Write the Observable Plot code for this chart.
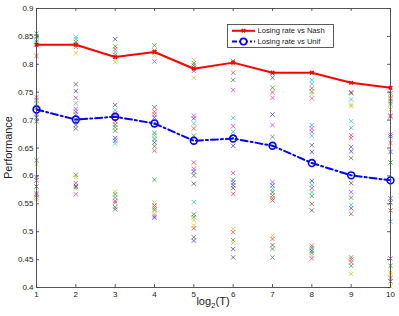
<!DOCTYPE html>
<html>
<head>
<meta charset="utf-8">
<script src="https://cdn.jsdelivr.net/npm/d3@7"></script>
<script src="https://cdn.jsdelivr.net/npm/@observablehq/plot@0.6"></script>
<style>
  html, body { margin: 0; padding: 0; background: #fff; }
  #chart { width: 399px; height: 316px; }
</style>
</head>
<body>
<div id="chart"></div>
<script>
// ---- Data ----
const xTicks = [1, 2, 3, 4, 5, 6, 7, 8, 9, 10];
const yTicks = [0.4, 0.45, 0.5, 0.55, 0.6, 0.65, 0.7, 0.75, 0.8, 0.85, 0.9];
const log2T = [1, 2, 3, 4, 5, 6, 7, 8, 9, 10];
const losingVsNash = [0.835, 0.835, 0.813, 0.822, 0.792, 0.803, 0.785, 0.785, 0.767, 0.758];
const losingVsUnif = [0.719, 0.701, 0.706, 0.694, 0.663, 0.667, 0.654, 0.623, 0.601, 0.592];
const seriesNames = ["Losing rate vs Nash", "Losing rate vs Unif"];

// individual runs per log2(T): [value, colour code]
const runs1 = [[0.855,"g"],[0.85,"k"],[0.844,"c"],[0.840,"g"],[0.835,"y"],[0.815,"r"],[0.741,"m"],[0.736,"r"],[0.729,"c"],[0.723,"g"],[0.711,"b"],[0.705,"b"],[0.698,"g"],[0.628,"g"],[0.621,"y"],[0.598,"b"],[0.592,"r"],[0.581,"k"],[0.569,"g"],[0.566,"m"],[0.561,"r"],[0.558,"y"]];
const runs2 = [[0.849,"c"],[0.845,"c"],[0.84,"k"],[0.835,"g"],[0.831,"r"],[0.82,"y"],[0.764,"k"],[0.752,"b"],[0.74,"m"],[0.73,"c"],[0.72,"m"],[0.715,"b"],[0.71,"m"],[0.701,"g"],[0.697,"g"],[0.691,"b"],[0.685,"k"],[0.602,"g"],[0.598,"y"],[0.587,"r"],[0.582,"k"],[0.58,"b"],[0.577,"y"],[0.567,"m"]];
const runs3 = [[0.845,"k"],[0.832,"g"],[0.827,"r"],[0.822,"c"],[0.817,"r"],[0.809,"y"],[0.804,"y"],[0.727,"k"],[0.718,"c"],[0.711,"r"],[0.698,"r"],[0.692,"k"],[0.687,"g"],[0.681,"g"],[0.668,"b"],[0.663,"b"],[0.658,"c"],[0.572,"y"],[0.567,"g"],[0.561,"g"],[0.555,"r"],[0.552,"m"],[0.544,"g"],[0.54,"k"]];
const runs4 = [[0.834,"g"],[0.825,"k"],[0.821,"g"],[0.816,"y"],[0.805,"m"],[0.723,"k"],[0.715,"r"],[0.71,"m"],[0.705,"b"],[0.693,"k"],[0.677,"g"],[0.672,"c"],[0.666,"g"],[0.66,"b"],[0.653,"g"],[0.645,"r"],[0.593,"g"],[0.552,"y"],[0.547,"k"],[0.543,"r"],[0.539,"g"],[0.532,"y"],[0.528,"m"],[0.525,"b"]];
const runs5 = [[0.808,"y"],[0.802,"g"],[0.798,"k"],[0.794,"r"],[0.788,"m"],[0.776,"y"],[0.708,"m"],[0.703,"b"],[0.694,"c"],[0.685,"r"],[0.672,"g"],[0.624,"r"],[0.613,"m"],[0.608,"b"],[0.601,"g"],[0.586,"k"],[0.553,"c"],[0.531,"g"],[0.526,"g"],[0.521,"y"],[0.511,"y"],[0.506,"r"],[0.49,"k"],[0.484,"b"]];
const runs6 = [[0.806,"k"],[0.799,"y"],[0.785,"r"],[0.772,"g"],[0.754,"m"],[0.704,"c"],[0.689,"m"],[0.679,"c"],[0.668,"g"],[0.654,"b"],[0.605,"m"],[0.593,"g"],[0.588,"b"],[0.583,"b"],[0.578,"k"],[0.568,"r"],[0.505,"y"],[0.499,"r"],[0.485,"g"],[0.48,"y"],[0.469,"b"],[0.454,"k"]];
const runs7 = [[0.776,"k"],[0.758,"g"],[0.75,"r"],[0.74,"m"],[0.71,"b"],[0.691,"m"],[0.67,"g"],[0.589,"m"],[0.583,"b"],[0.577,"c"],[0.571,"k"],[0.565,"g"],[0.56,"r"],[0.556,"r"],[0.493,"y"],[0.487,"r"],[0.476,"k"],[0.469,"g"],[0.454,"g"]];
const runs8 = [[0.772,"c"],[0.765,"c"],[0.757,"r"],[0.751,"g"],[0.746,"y"],[0.739,"m"],[0.691,"c"],[0.685,"m"],[0.679,"m"],[0.672,"c"],[0.655,"k"],[0.643,"b"],[0.591,"b"],[0.584,"c"],[0.578,"m"],[0.571,"c"],[0.564,"g"],[0.55,"r"],[0.538,"k"],[0.475,"r"],[0.471,"g"],[0.466,"b"],[0.462,"g"],[0.457,"y"],[0.452,"m"]];
const runs9 = [[0.75,"r"],[0.748,"k"],[0.737,"c"],[0.728,"y"],[0.725,"y"],[0.698,"c"],[0.686,"c"],[0.673,"m"],[0.668,"r"],[0.652,"k"],[0.644,"b"],[0.632,"g"],[0.587,"k"],[0.571,"m"],[0.561,"g"],[0.548,"c"],[0.542,"b"],[0.532,"r"],[0.454,"g"],[0.45,"r"],[0.445,"m"],[0.439,"g"],[0.424,"y"]];
const runs10 = [[0.748,"k"],[0.744,"y"],[0.739,"r"],[0.734,"g"],[0.729,"g"],[0.719,"y"],[0.708,"m"],[0.706,"r"],[0.674,"m"],[0.671,"b"],[0.659,"r"],[0.643,"b"],[0.624,"g"],[0.56,"b"],[0.552,"k"],[0.538,"r"],[0.518,"c"],[0.452,"m"],[0.439,"g"],[0.427,"y"],[0.424,"y"],[0.417,"r"],[0.411,"k"],[0.402,"y"]];
const allRuns = [runs1, runs2, runs3, runs4, runs5, runs6, runs7, runs8, runs9, runs10];

const colorCodes = {b: "#3b3bf5", g: "#2f942f", r: "#f03c3c", c: "#2fc4c4", m: "#d13ad1", y: "#c8c830", k: "#555555"};

// ---- Tables ----
const runTable = allRuns.flatMap((col, i) => col.map(([v, c]) => ({x: log2T[i], y: v, color: colorCodes[c]})));
const nashTable = log2T.map((x, i) => ({x, y: losingVsNash[i]}));
const unifTable = log2T.map((x, i) => ({x, y: losingVsUnif[i]}));

const W = 399, H = 316, mL = 36, mR = 9, mT = 8, mB = 29;
const innerW = W - mL - mR, innerH = H - mT - mB;
const tick = 3;
const font = "'Liberation Sans', Arial, Helvetica, sans-serif";
const fmtY = d => String(+d.toFixed(2));

const chart = Plot.plot({
  width: W, height: H,
  marginLeft: mL, marginRight: mR, marginTop: mT, marginBottom: mB,
  style: {fontFamily: font, fontSize: "8px", color: "#222", background: "#fff"},
  x: {domain: [1, 10], label: null},
  y: {domain: [0.4, 0.9], label: null},
  marks: [
    // individual runs
    Plot.dot(runTable, {x: "x", y: "y", symbol: "times", r: 2.1, stroke: "color", strokeWidth: 0.9, strokeOpacity: 0.85}),
    // Nash line
    Plot.line(nashTable, {x: "x", y: "y", stroke: "#ff0000", strokeWidth: 2}),
    Plot.dot(nashTable, {x: "x", y: "y", symbol: "times", r: 1.8, stroke: "#ff0000", strokeWidth: 1.5}),
    // Unif line
    Plot.line(unifTable, {x: "x", y: "y", stroke: "#0000ff", strokeWidth: 2, strokeDasharray: "7,3,2,3"}),
    Plot.dot(unifTable, {x: "x", y: "y", r: 3.4, stroke: "#0000ff", fill: "none", strokeWidth: 1.6}),
    // inward ticks on all sides
    Plot.tickX(xTicks, {x: d => d, stroke: "#333", strokeWidth: 0.8, insetTop: innerH - tick}),
    Plot.tickX(xTicks, {x: d => d, stroke: "#333", strokeWidth: 0.8, insetBottom: innerH - tick}),
    Plot.tickY(yTicks, {y: d => d, stroke: "#333", strokeWidth: 0.8, insetRight: innerW - tick}),
    Plot.tickY(yTicks, {y: d => d, stroke: "#333", strokeWidth: 0.8, insetLeft: innerW - tick}),
    // tick labels
    Plot.axisX(xTicks, {tickSize: 0, tickPadding: 4, tickFormat: d => String(d), fill: "#222", label: null}),
    Plot.axisY(yTicks, {tickSize: 0, tickPadding: 3, tickFormat: fmtY, fill: "#222", label: null}),
    Plot.frame({stroke: "#444", strokeWidth: 0.9})
  ]
});

document.getElementById("chart").appendChild(chart);

// ---- axis titles and legend ----
const svg = d3.select(chart);
svg.append("text")
  .attr("transform", `translate(12,${mT + innerH / 2}) rotate(-90)`)
  .attr("text-anchor", "middle")
  .attr("font-family", font).attr("font-size", 11).attr("fill", "#222")
  .text("Performance");

const xl = svg.append("text")
  .attr("x", mL + innerW / 2).attr("y", 305)
  .attr("text-anchor", "middle")
  .attr("font-family", font).attr("font-size", 11).attr("fill", "#222");
xl.append("tspan").text("log");
xl.append("tspan").attr("font-size", 8).attr("dy", 3).text("2");
xl.append("tspan").attr("dy", -3).text("(T)");

const lg = svg.append("g");
lg.append("rect").attr("x", 227.5).attr("y", 24.5).attr("width", 106).attr("height", 23)
  .attr("fill", "#fff").attr("stroke", "#333").attr("stroke-width", 0.8);
const rowsY = [30.8, 41.6];
// Nash
lg.append("line").attr("x1", 232).attr("x2", 255).attr("y1", rowsY[0]).attr("y2", rowsY[0])
  .attr("stroke", "#ff0000").attr("stroke-width", 2);
lg.append("path").attr("d", d3.symbol(d3.symbolTimes, 10)()).attr("transform", `translate(243.5,${rowsY[0]})`)
  .attr("stroke", "#ff0000").attr("stroke-width", 1.5).attr("fill", "none");
// Unif
lg.append("line").attr("x1", 232).attr("x2", 255).attr("y1", rowsY[1]).attr("y2", rowsY[1])
  .attr("stroke", "#0000ff").attr("stroke-width", 2).attr("stroke-dasharray", "5,2,2,2");
lg.append("circle").attr("cx", 243.5).attr("cy", rowsY[1]).attr("r", 3.2)
  .attr("stroke", "#0000ff").attr("stroke-width", 1.6).attr("fill", "#fff");
seriesNames.forEach((name, i) => {
  lg.append("text").attr("x", 257.5).attr("y", rowsY[i]).attr("dy", "0.35em")
    .attr("text-anchor", "start")
    .attr("font-family", font).attr("font-size", 7.6).attr("fill", "#222").text(name);
});
</script>
</body>
</html>
